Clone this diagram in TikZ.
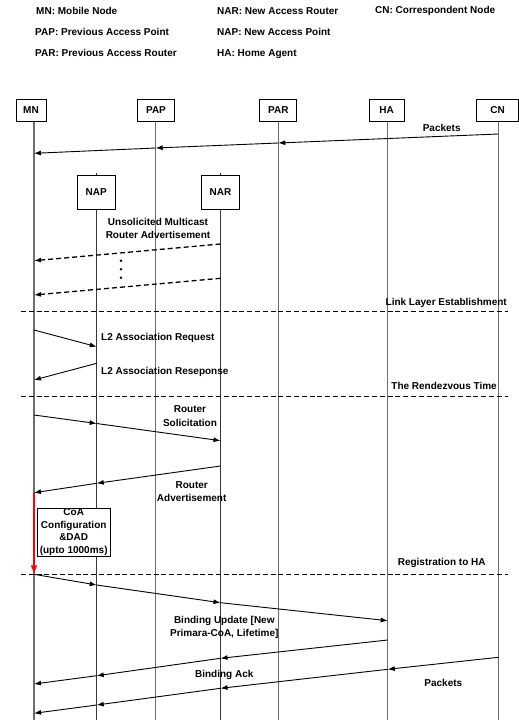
\documentclass[tikz,border=0pt]{standalone}
\usepackage{fontspec}
\setmainfont{Liberation Sans}
\usetikzlibrary{arrows.meta}
\definecolor{lifegray}{RGB}{110,110,110}
\definecolor{subgray}{RGB}{55,55,55}
\begin{document}
\begin{tikzpicture}[x=1pt,y=-1pt,
  font=\fontsize{10}{12}\selectfont\bfseries,
  actor/.style={draw, line width=0.8pt, fill=white, minimum height=22pt, inner sep=0pt},
  subactor/.style={draw, line width=0.8pt, fill=white, minimum height=34.5pt, minimum width=37.6pt, inner sep=0pt},
  life/.style={draw=lifegray, line width=1.2pt},
  sublife/.style={draw=subgray, line width=0.8pt},
  msg/.style={draw, line width=0.9pt, -{Latex[length=7pt,width=5pt]}},
  dmsg/.style={msg, dash pattern=on 5pt off 3pt, line width=1.3pt},
  phase/.style={draw, line width=1.4pt, dash pattern=on 5pt off 2.8pt},
  lbl/.style={inner sep=0pt, align=center},
]
\useasboundingbox (0,0) rectangle (519,720);

% legend
\node[lbl, anchor=west] (lgMN)  at (36,11)  {MN: Mobile Node};
\node[lbl, anchor=west] (lgNAR) at (217,11) {NAR: New Access Router};
\node[lbl, anchor=west] (lgCN)  at (375,11) {CN: Correspondent Node};
\node[lbl, anchor=west] (lgPAP) at (35,32)  {PAP: Previous Access Point};
\node[lbl, anchor=west] (lgNAP) at (217,32) {NAP: New Access Point};
\node[lbl, anchor=west] (lgPAR) at (35,53)  {PAR: Previous Access Router};
\node[lbl, anchor=west] (lgHA)  at (217,54) {HA: Home Agent};

% lifelines
\coordinate (mnT) at (34,121);    \coordinate (mnB) at (34,720);
\coordinate (papT) at (155.7,121); \coordinate (papB) at (155.7,720);
\coordinate (parT) at (278.3,121); \coordinate (parB) at (278.3,720);
\coordinate (haT) at (387.7,121);  \coordinate (haB) at (387.7,720);
\coordinate (cnT) at (498.3,121);  \coordinate (cnB) at (498.3,720);
\coordinate (napT) at (96.7,172.5); \coordinate (napB) at (96.7,720);
\coordinate (narT) at (220.5,172.5); \coordinate (narB) at (220.5,720);
\draw[life] (mnT) -- (mnB);
\draw[life] (papT) -- (papB);
\draw[life] (parT) -- (parB);
\draw[life] (haT) -- (haB);
\draw[life] (cnT) -- (cnB);
\draw[sublife] (napT) -- (napB);
\draw[sublife] (narT) -- (narB);

% entity boxes
\node[actor, minimum width=30pt] (MN)  at (31,110)    {MN};
\node[actor, minimum width=37pt] (PAP) at (156,110)   {PAP};
\node[actor, minimum width=37pt] (PAR) at (278.3,110) {PAR};
\node[actor, minimum width=35pt] (HA)  at (386.5,110) {HA};
\node[actor, minimum width=42pt] (CN)  at (497.5,110) {CN};
\node[subactor] (NAP) at (96.2,192.3)  {NAP};
\node[subactor] (NAR) at (220.5,192.3) {NAR};

% packets from CN before handover
\coordinate (a1) at (498.3,134);
\coordinate (a2) at (278.3,143);
\coordinate (a3) at (155.7,148);
\coordinate (a4) at (34,153.3);
\draw[msg] (a1) -- (a2);
\draw[msg] (a2) -- (a3);
\draw[msg] (a3) -- (a4);
\node[lbl] (pk1) at (441.7,127.7) {Packets};

% unsolicited multicast router advertisements
\node[lbl, font=\fontsize{10}{12.7}\selectfont\bfseries] (umra) at (158,228.7) {Unsolicited Multicast\\Router Advertisement};
\coordinate (u1a) at (220.5,244);   \coordinate (u1b) at (34,260.7);
\coordinate (u2a) at (220.5,278.3); \coordinate (u2b) at (34,295);
\draw[dmsg] (u1a) -- (u1b);
\draw[dmsg] (u2a) -- (u2b);
\fill (121,260.7) circle (1.4pt);
\fill (121,269.2) circle (1.4pt);
\fill (121,277.7) circle (1.4pt);

% phase separators
\coordinate (s1a) at (21,311.7); \coordinate (s1b) at (508.3,311.7);
\coordinate (s2a) at (21,396.7); \coordinate (s2b) at (508.3,396.7);
\coordinate (s3a) at (21,574.3); \coordinate (s3b) at (508.3,574.3);
\draw[phase] (s1a) -- (s1b);
\draw[phase] (s2a) -- (s2b);
\draw[phase] (s3a) -- (s3b);
\node[lbl, anchor=east] (ph1) at (507,302.7) {Link Layer Establishment};
\node[lbl, anchor=east] (ph2) at (497,386) {The Rendezvous Time};
\node[lbl] (ph3) at (441.7,563.3) {Registration to HA};

% layer 2 association
\coordinate (l1a) at (34,330);    \coordinate (l1b) at (96.7,346.7);
\coordinate (l2a) at (96.7,363.3); \coordinate (l2b) at (34,380);
\draw[msg] (l1a) -- (l1b);
\draw[msg] (l2a) -- (l2b);
\node[lbl, anchor=west] (l2req) at (101,338.3) {L2 Association Request};
\node[lbl, anchor=west] (l2res) at (101,371.7) {L2 Association Reseponse};

% router solicitation
\coordinate (r1) at (34,415);
\coordinate (r2) at (96.7,423.5);
\coordinate (r3) at (220.5,440.7);
\draw[msg] (r1) -- (r2);
\draw[msg] (r2) -- (r3);
\node[lbl, font=\fontsize{10}{14}\selectfont\bfseries] (rs) at (190,416.3) {Router\\Solicitation};

% router advertisement
\coordinate (q1) at (220.5,466);
\coordinate (q2) at (96.7,483.3);
\coordinate (q3) at (34,492.7);
\draw[msg] (q1) -- (q2);
\draw[msg] (q2) -- (q3);
\node[lbl, font=\fontsize{10}{13.3}\selectfont\bfseries] (ra) at (191.7,491.7) {Router\\Advertisement};

% CoA configuration and DAD
\coordinate (redEnd) at (34,574.3);
\draw[draw=red, line width=1.6pt, -{Latex[length=9pt,width=7pt]}] (q3) -- (redEnd);
\node[draw, line width=0.8pt, fill=white, minimum width=72.7pt, minimum height=47.7pt, inner sep=0pt,
      align=center, font=\fontsize{10}{12.5}\selectfont\bfseries] (coa) at (73.7,532.2)
  {CoA\\Configuration\\\&DAD\\(upto 1000ms)};

% binding update
\coordinate (b1) at (34,574.3);
\coordinate (b2) at (96.7,585);
\coordinate (b3) at (220.5,602.7);
\coordinate (b4) at (387.7,620.7);
\draw[msg] (b1) -- (b2);
\draw[msg] (b2) -- (b3);
\draw[msg] (b3) -- (b4);
\node[lbl, font=\fontsize{10}{13.3}\selectfont\bfseries] (bu) at (224.3,627.3) {Binding Update [New\\Primara-CoA, Lifetime]};

% binding acknowledgement
\coordinate (k1) at (387.7,640);
\coordinate (k2) at (220.5,658.3);
\coordinate (k3) at (96.7,675.7);
\coordinate (k4) at (34,684);
\draw[msg] (k1) -- (k2);
\draw[msg] (k2) -- (k3);
\draw[msg] (k3) -- (k4);
\node[lbl] (ba) at (224.3,675) {Binding Ack};

% packets after registration
\coordinate (p1) at (498.3,657.3);
\coordinate (p2) at (387.7,669.3);
\coordinate (p3) at (220.5,688.3);
\coordinate (p4) at (96.7,705);
\coordinate (p5) at (34,713.3);
\draw[msg] (p1) -- (p2);
\draw[msg] (p2) -- (p3);
\draw[msg] (p3) -- (p4);
\draw[msg] (p4) -- (p5);
\node[lbl] (pk2) at (443.3,683.3) {Packets};
\end{tikzpicture}
\end{document}
